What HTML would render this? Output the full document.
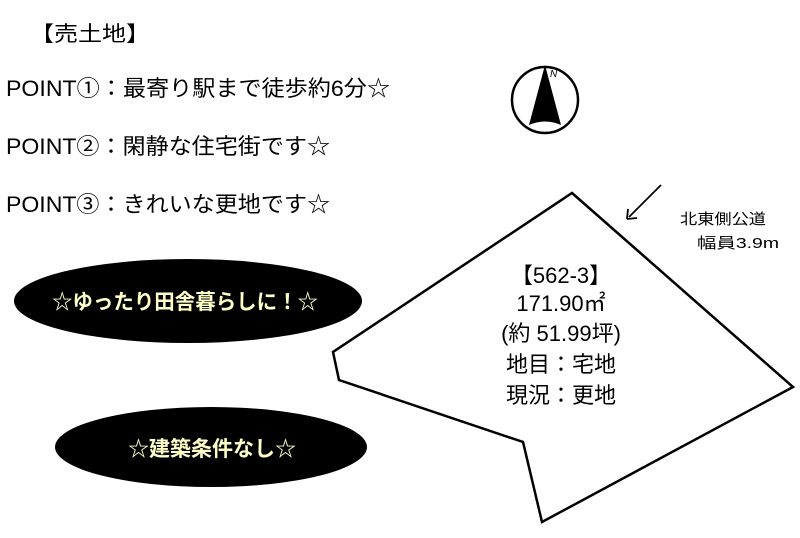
<!DOCTYPE html>
<html><head><meta charset="utf-8"><style>
body{margin:0;background:#fff;width:800px;height:538px;overflow:hidden;}
svg{display:block}
text{font-family:"Liberation Sans","Noto Sans CJK JP",sans-serif;}
</style></head><body>
<svg width="800" height="538" viewBox="0 0 800 538">
<text x="30" y="41" font-size="21" textLength="120" lengthAdjust="spacingAndGlyphs">【売土地】</text>
<text x="6" y="96" font-size="22" textLength="384" lengthAdjust="spacingAndGlyphs">POINT①：最寄り駅まで徒歩約6分☆</text>
<text x="6" y="154" font-size="22" textLength="324" lengthAdjust="spacingAndGlyphs">POINT②：閑静な住宅街です☆</text>
<text x="6" y="212" font-size="22" textLength="324" lengthAdjust="spacingAndGlyphs">POINT③：きれいな更地です☆</text>
<ellipse cx="188" cy="301" rx="174" ry="42" fill="#000"/>
<text x="52" y="309" font-size="21" font-weight="bold" fill="#ffffc8" textLength="266" lengthAdjust="spacingAndGlyphs">☆ゆったり田舎暮らしに！☆</text>
<ellipse cx="211" cy="447" rx="156" ry="40" fill="#000"/>
<text x="128" y="456" font-size="21" font-weight="bold" fill="#ffffc8" textLength="168" lengthAdjust="spacingAndGlyphs">☆建築条件なし☆</text>
<circle cx="545" cy="100" r="33" fill="none" stroke="#000" stroke-width="2.5"/>
<path d="M545 65 L529 125 Q545 118 561 125 Z" fill="#000"/>
<text x="550" y="77" font-size="10" font-style="italic">N</text>
<polygon points="572,193 793,387 542,522 523,442 339,380 333,352" fill="none" stroke="#000" stroke-width="2.5"/>
<line x1="661" y1="185" x2="629" y2="217" stroke="#000" stroke-width="1.8"/>
<path d="M627 219 L628 209 M627 219 L637 218" stroke="#000" stroke-width="1.8" fill="none"/>
<text x="680" y="224" font-size="15" textLength="86" lengthAdjust="spacingAndGlyphs">北東側公道</text>
<text x="697" y="248" font-size="15" textLength="82" lengthAdjust="spacingAndGlyphs">幅員3.9m</text>
<g font-size="22" text-anchor="middle">
<text x="561" y="283">【562-3】</text>
<text x="561" y="311">171.90㎡</text>
<text x="561" y="341">(約 51.99坪)</text>
<text x="561" y="372">地目：宅地</text>
<text x="561" y="403">現況：更地</text>
</g>
</svg>
</body></html>
